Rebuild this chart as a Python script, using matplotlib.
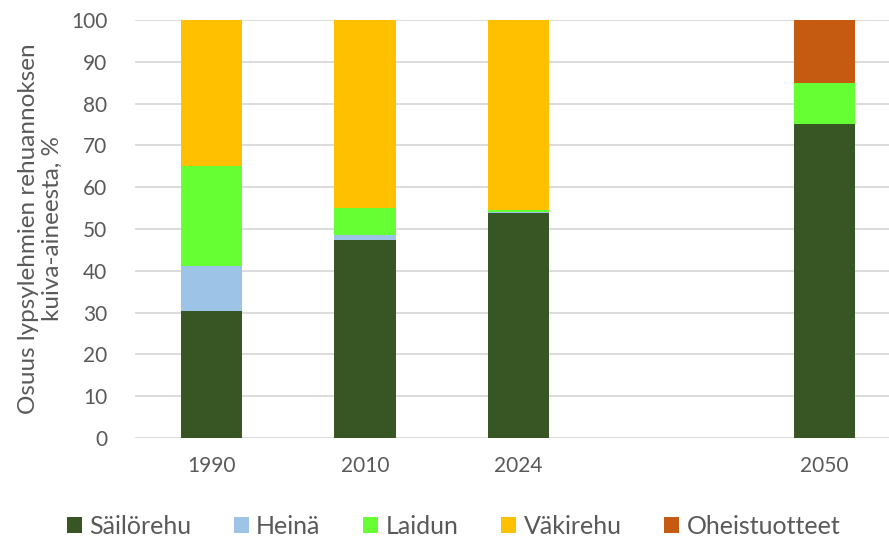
import matplotlib
matplotlib.use("Agg")
import matplotlib.pyplot as plt
import numpy as np

plt.rcParams['font.family'] = ['Lato', 'DejaVu Sans']

categories = ["1990", "2010", "2024", "", "2050"]
series_names = ["Säilörehu", "Heinä", "Laidun", "Väkirehu", "Oheistuotteet"]
colors = ["#375623", "#9DC3E6", "#66FF33", "#FFC000", "#C55A11"]

sailorehu = [30.3, 47.3, 53.8, 0, 75.0]
heina = [10.9, 1.3, 0.3, 0, 0]
laidun = [23.9, 6.3, 0.5, 0, 10.0]
vakirehu = [34.9, 45.1, 45.4, 0, 0]
oheistuotteet = [0, 0, 0, 0, 15.0]
values = [sailorehu, heina, laidun, vakirehu, oheistuotteet]

fig = plt.figure(figsize=(8.89, 5.4), dpi=100)
ax = fig.add_axes([0.152, 0.189, 0.855, 0.774])

x = np.arange(len(categories))
bottom = np.zeros(len(categories))
for name, vals, c in zip(series_names, values, colors):
    v = np.array(vals, dtype=float)
    m = v > 0
    ax.bar(x[m], v[m], 0.4, bottom=bottom[m], color=c, label=name, zorder=3,
           linewidth=0)
    bottom += v

ax.set_ylim(0, 100)
ax.set_xlim(-0.5, 4.46)
ax.set_yticks(range(0, 101, 10))
ax.set_xticks(x)
ax.set_xticklabels(categories)
ax.grid(axis='y', color='#D9D9D9', linewidth=1.3, zorder=0)
for s in ax.spines.values():
    s.set_visible(False)
ax.tick_params(axis='both', length=0, colors='#595959', labelsize=15)
ax.tick_params(axis='y', pad=20)
ax.tick_params(axis='x', pad=13)
ax.set_ylabel("Osuus lypsylehmien rehuannoksen\nkuiva-aineesta, %", fontsize=17.5,
              color='#595959', labelpad=6, linespacing=1.15)

leg = fig.legend(loc='center', bbox_to_anchor=(0.51, 0.025), ncol=5, frameon=False,
                 fontsize=18, handlelength=0.6, handleheight=0.6, handletextpad=0.3,
                 columnspacing=1.7, labelcolor='#595959')

fig.savefig("out.png", dpi=100)
